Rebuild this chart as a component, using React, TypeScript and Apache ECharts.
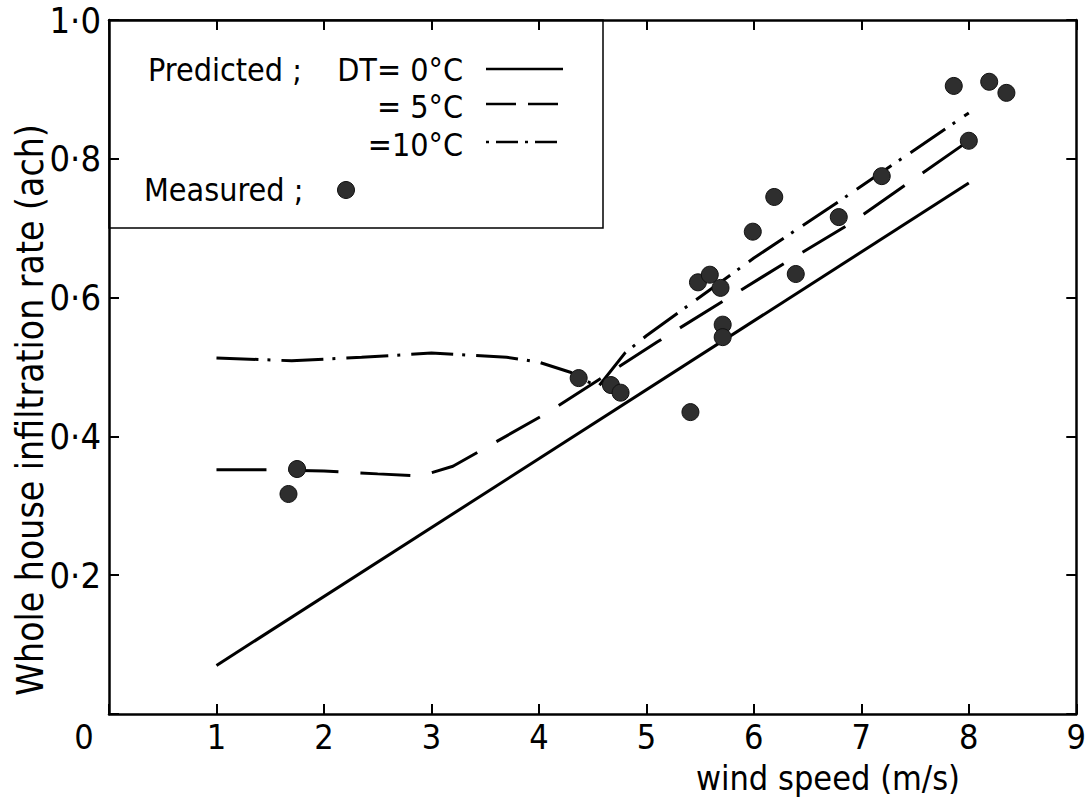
import React, { useEffect, useRef } from "react";
import * as echarts from "echarts";

// ---- data ----
const measuredX = [1.67, 1.75, 4.37, 4.67, 4.76, 5.41, 5.48, 5.59, 5.69, 5.71, 5.71, 5.99, 6.19, 6.39, 6.79, 7.19, 7.86, 8.0, 8.19, 8.35];
const measuredY = [0.317, 0.353, 0.484, 0.474, 0.463, 0.435, 0.622, 0.633, 0.614, 0.561, 0.543, 0.695, 0.745, 0.634, 0.716, 0.775, 0.905, 0.826, 0.911, 0.895];

const dt0X = [1, 8];
const dt0Y = [0.07, 0.765];

const dt5X = [1, 1.5, 2, 2.5, 2.9, 3.2, 3.6, 4.1, 5.1, 6.3, 6.9, 8];
const dt5Y = [0.352, 0.352, 0.35, 0.346, 0.343, 0.357, 0.392, 0.436, 0.536, 0.651, 0.707, 0.826];

const dt10X = [1, 1.7, 2.35, 3.0, 3.7, 4.0, 4.3, 4.55, 4.8, 5.0, 6.0, 6.7, 8.0];
const dt10Y = [0.513, 0.509, 0.514, 0.52, 0.514, 0.507, 0.492, 0.471, 0.52, 0.545, 0.657, 0.729, 0.866];

const yTicks = [0.2, 0.4, 0.6, 0.8, 1.0];
const xTickLabels = ["1", "2", "3", "4", "5", "6", "7", "8", "9"];

const legendLabels = ["Predicted ;", "DT= 0°C", "= 5°C", "=10°C", "Measured ;"];
const xTitle = "wind speed (m/s)";
const yTitle = "Whole house infiltration rate (ach)";

const FONT = "'Liberation Sans Narrow', 'DejaVu Sans Condensed', 'Roboto Condensed', 'Liberation Sans', sans-serif";

const zip = (xs: number[], ys: number[]) => xs.map((x, i) => [x, ys[i]]);

const mkLine = () => ({ show: true, onZero: false, lineStyle: { color: "#000", width: 2.5 } });
const mkTick = () => ({ show: true, inside: true, length: 10, lineStyle: { color: "#000", width: 2 } });

export default function App() {
  const ref = useRef<HTMLDivElement>(null);
  useEffect(() => {
    if (!ref.current) return;
    const chart = echarts.init(ref.current, undefined, { renderer: "svg" });
    const yFmt = (v: number) => (yTicks.some((t) => Math.abs(t - v) < 1e-6) ? v.toFixed(1).replace(".", "·") : "");
    const xFmt = (v: number) => (v === 0 ? "" : xTickLabels[Math.round(v) - 1] ?? "");
    const lineBase = { type: "line", showSymbol: false, symbol: "none", smooth: false, z: 3 };
    chart.setOption({
      animation: false,
      backgroundColor: "#fff",
      grid: { left: 109, top: 20, width: 971, height: 694, containLabel: false },
      xAxis: [
        {
          type: "value", min: 0, max: 9, interval: 1, position: "bottom",
          axisLine: mkLine(), axisTick: mkTick(), splitLine: { show: false },
          axisLabel: { color: "#000", fontSize: 34, fontFamily: FONT, margin: 6, formatter: xFmt },
        },
        {
          type: "value", min: 0, max: 9, interval: 1, position: "top",
          axisLine: mkLine(), axisTick: mkTick(), splitLine: { show: false }, axisLabel: { show: false },
        },
      ],
      yAxis: [
        {
          type: "value", min: 0, max: 1, interval: 0.2, position: "left",
          axisLine: mkLine(), axisTick: mkTick(), splitLine: { show: false },
          axisLabel: { color: "#000", fontSize: 36, fontFamily: FONT, margin: 8, formatter: yFmt },
        },
        {
          type: "value", min: 0, max: 1, interval: 0.2, position: "right",
          axisLine: mkLine(), axisTick: mkTick(), splitLine: { show: false }, axisLabel: { show: false },
        },
      ],
      series: [
        { ...lineBase, name: "DT=0", data: zip(dt0X, dt0Y), lineStyle: { color: "#000", width: 3, type: "solid" } },
        { ...lineBase, name: "DT=5", data: zip(dt5X, dt5Y), lineStyle: { color: "#000", width: 3, type: [50, 22] } },
        { ...lineBase, name: "DT=10", data: zip(dt10X, dt10Y), lineStyle: { color: "#000", width: 3, type: [42, 9, 3, 11] } },
        {
          type: "scatter", name: "Measured", data: zip(measuredX, measuredY),
          symbol: "circle", symbolSize: 17, z: 4,
          itemStyle: { color: "#2e2e2e", borderColor: "#111", borderWidth: 1, opacity: 1 },
        },
      ],
      graphic: [
        { type: "rect", shape: { x: 109, y: 20, width: 494, height: 208 }, style: { fill: "none", stroke: "#000", lineWidth: 1.5 }, z: 10 },
        { type: "text", x: 148, y: 70, style: { text: legendLabels[0], font: `32px ${FONT}`, fill: "#000", textAlign: "left", textVerticalAlign: "middle" }, z: 10 },
        { type: "text", x: 463, y: 70, style: { text: legendLabels[1], font: `32px ${FONT}`, fill: "#000", textAlign: "right", textVerticalAlign: "middle" }, z: 10 },
        { type: "text", x: 463, y: 107, style: { text: legendLabels[2], font: `32px ${FONT}`, fill: "#000", textAlign: "right", textVerticalAlign: "middle" }, z: 10 },
        { type: "text", x: 463, y: 145, style: { text: legendLabels[3], font: `32px ${FONT}`, fill: "#000", textAlign: "right", textVerticalAlign: "middle" }, z: 10 },
        { type: "text", x: 144, y: 190, style: { text: legendLabels[4], font: `32px ${FONT}`, fill: "#000", textAlign: "left", textVerticalAlign: "middle" }, z: 10 },
        { type: "line", shape: { x1: 486, y1: 69, x2: 563, y2: 69 }, style: { stroke: "#000", lineWidth: 2.5 }, z: 10 },
        { type: "line", shape: { x1: 486, y1: 104, x2: 563, y2: 104 }, style: { stroke: "#000", lineWidth: 2.5, lineDash: [30, 12] }, z: 10 },
        { type: "line", shape: { x1: 486, y1: 142, x2: 563, y2: 142 }, style: { stroke: "#000", lineWidth: 2.5, lineDash: [3, 7, 22, 7] }, z: 10 },
        { type: "circle", shape: { cx: 346, cy: 190, r: 8.5 }, style: { fill: "#2e2e2e", stroke: "#111", lineWidth: 1 }, z: 10 },
        { type: "text", x: 84, y: 737, style: { text: "0", font: `34px ${FONT}`, fill: "#000", textAlign: "center", textVerticalAlign: "middle" }, z: 10 },
        { type: "text", x: 828, y: 778, style: { text: xTitle, font: `34px ${FONT}`, fill: "#000", textAlign: "center", textVerticalAlign: "middle" }, z: 10 },
        { type: "text", x: 30, y: 410, rotation: Math.PI / 2, style: { text: yTitle, font: `37px ${FONT}`, fill: "#000", textAlign: "center", textVerticalAlign: "middle" }, z: 10 },
      ],
    });
    return () => chart.dispose();
  }, []);
  return <div ref={ref} style={{ position: "fixed", left: 0, top: 0, width: 1089, height: 800 }} />;
}
